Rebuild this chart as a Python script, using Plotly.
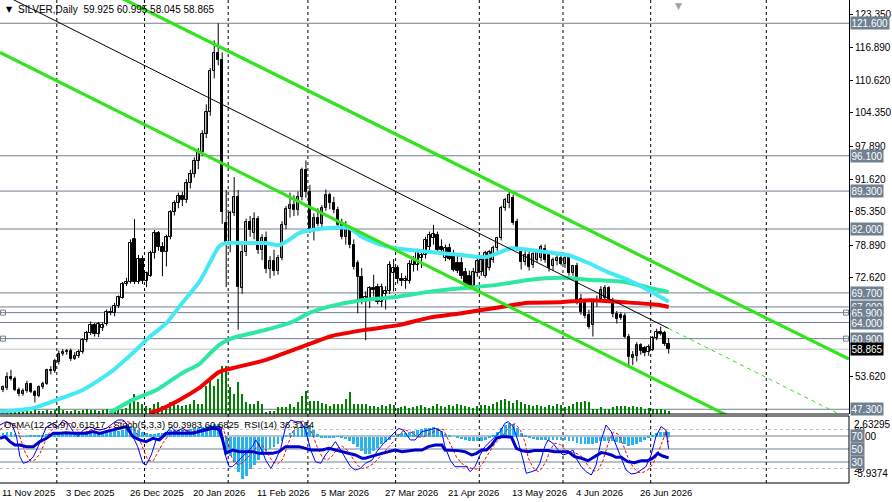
import numpy as np
import pandas as pd
import plotly.graph_objects as go

# ---------------- data ----------------
title_text = "SILVER,Daily  59.925 60.995 58.045 58.865"
indicator_text = "OsMA(12,26,9) 0.61517 , Stoch(5,3,3) 50.3983 60.6825  RSI(14) 36.3134"

first_day = "2025-11-11"
holidays = ["2025-12-25", "2026-01-01", "2026-04-03"]

open_ = [51.0,51.4,53.6,53.2,51.0,50.3,50.9,52.1,50.7,49.9,51.6,52.2,54.8,54.6,
         56.4,58.0,58.4,58.6,57.0,57.5,58.3,60.6,62.0,63.5,61.8,63.0,63.7,66.0,65.9,67.1,68.8,71.4,
         71.8,80.1,71.8,76.2,72.0,73.0,77.4,81.2,78.5,77.6,80.5,85.3,87.0,88.4,87.6,90.8,92.6,
         95.0,96.8,100.2,104.5,112.4,115.8,114.6,83.2,78.9,85.1,88.2,70.6,
         77.6,83.3,81.2,83.9,78.0,80.2,74.3,75.9,74.0,76.5,82.8,85.8,86.6,85.7,88.2,93.4,
         89.1,81.8,84.2,83.0,86.0,88.6,87.0,85.7,82.8,80.5,82.0,79.0,75.5,72.8,68.0,68.5,70.6,70.8,68.0,69.5,70.0,73.5,
         74.5,72.3,72.0,72.0,75.0,75.0,76.5,77.0,78.5,80.2,80.8,78.5,76.5,78.3,77.0,75.5,75.5,73.7,73.0,71.0,73.5,
         73.8,73.0,74.5,76.0,78.3,80.2,86.0,87.0,88.0,83.3,77.6,75.6,77.0,75.0,76.0,76.5,78.2,77.0,74.8,75.8,76.5,
         75.2,76.4,73.5,74.8,68.5,67.8,65.5,63.5,68.0,68.5,68.8,70.6,68.2,65.6,65.5,65.2,61.2,57.2,57.5,59.6,59.0,58.3,58.8,61.0,62.2,62.0,59.925]
high = [51.9,54.4,54.9,53.6,51.5,51.3,52.8,52.4,51.0,51.9,52.6,55.1,55.6,57.0,
        58.6,58.9,58.9,59.0,58.3,58.8,61.0,62.4,64.2,63.9,64.1,64.0,66.5,66.9,67.8,69.2,71.8,72.6,
        80.0,83.9,77.0,76.9,73.8,77.8,81.8,81.6,79.5,80.9,85.6,87.5,89.0,89.2,91.6,93.4,95.8,
        97.6,101.0,106.0,113.0,118.3,121.6,116.0,89.5,85.5,92.0,89.5,79.3,
        84.0,84.5,85.2,84.5,81.0,81.5,76.8,78.0,77.0,83.5,86.4,89.0,88.5,89.2,93.8,95.2,
        90.5,85.0,86.0,86.6,89.6,89.0,88.2,86.3,84.0,83.5,82.5,80.0,76.0,74.5,70.0,71.0,73.2,71.5,71.5,71.0,75.8,76.2,
        75.0,73.5,73.0,76.0,76.8,78.2,78.0,80.5,81.5,82.8,81.5,80.0,79.0,79.2,78.0,76.8,76.5,74.5,74.0,74.5,76.5,
        77.0,77.8,78.0,78.8,80.5,86.5,88.0,89.3,88.6,84.0,78.5,77.8,77.8,77.5,77.8,79.0,79.0,77.5,76.5,77.0,77.2,
        77.0,77.0,75.0,75.5,69.5,68.5,66.5,68.5,69.2,71.0,71.2,71.0,68.8,66.2,66.0,65.8,61.8,58.5,60.2,60.0,59.5,59.8,61.4,62.8,63.2,62.4,60.995]
low = [50.6,51.0,52.8,50.8,49.8,49.9,50.5,50.4,48.6,49.6,51.2,52.0,54.0,54.3,
       55.9,57.6,57.8,56.6,56.8,57.2,58.0,60.2,61.6,61.3,61.2,62.4,63.4,65.4,65.2,66.8,68.6,71.0,
       71.5,71.4,71.4,71.4,70.8,72.8,76.3,77.8,72.9,74.8,80.0,84.6,86.0,86.4,87.0,89.8,91.9,
       93.5,96.0,99.5,103.8,111.0,113.5,83.0,70.8,77.5,84.5,62.6,69.5,
       76.8,80.5,80.0,77.2,76.0,73.5,72.5,73.0,73.2,76.0,82.0,84.2,84.5,84.6,87.5,88.0,
       81.2,79.8,82.5,82.4,85.5,85.8,85.0,82.5,80.0,79.0,78.3,74.2,65.8,67.5,60.6,66.8,69.0,67.5,67.0,66.5,69.5,70.0,
       71.5,71.0,70.5,71.5,73.8,74.0,74.5,76.3,77.8,79.0,77.6,77.0,75.8,76.0,73.8,73.5,72.4,70.5,70.8,70.6,72.8,
       73.0,72.6,74.0,75.5,77.8,79.8,85.5,86.0,82.8,77.8,74.2,75.0,74.0,74.5,75.5,75.8,75.5,73.8,74.0,75.0,75.0,
       74.5,73.0,73.0,67.5,65.5,64.8,62.8,61.3,67.0,68.0,68.0,67.8,65.0,63.8,64.5,61.0,55.8,55.8,56.5,57.8,57.5,57.6,58.5,60.6,61.5,59.5,58.045]
close = [51.5,53.6,53.2,51.0,50.3,50.9,52.1,50.7,49.8,51.6,52.2,54.8,54.6,56.5,
         58.0,58.4,58.6,56.9,57.5,58.3,60.6,62.0,63.5,61.8,63.7,63.5,66.0,65.9,67.1,68.9,71.4,71.8,
         79.3,71.8,76.2,72.0,73.5,77.4,81.2,78.5,77.6,80.5,85.3,87.0,88.4,87.6,90.8,92.6,95.1,
         96.8,100.2,104.5,112.4,115.8,114.6,85.3,78.9,85.1,88.2,70.8,77.6,
         83.3,81.8,83.9,78.0,80.2,74.3,75.9,74.0,76.5,82.8,85.8,86.6,85.7,88.2,93.4,89.2,
         81.8,84.2,83.0,86.0,88.6,87.0,85.7,82.8,80.5,82.0,79.0,74.7,72.8,68.0,69.0,70.6,70.2,68.0,70.8,70.0,75.0,74.5,
         72.3,72.0,72.4,75.2,76.0,77.6,77.0,79.8,80.8,81.0,78.0,78.0,78.3,76.2,74.2,74.0,73.0,71.2,71.0,73.8,75.8,
         76.0,77.4,77.5,78.3,80.2,86.0,87.6,88.5,83.2,78.3,75.6,77.0,74.6,77.2,77.5,78.5,76.0,74.5,76.0,76.5,75.2,
         76.5,73.5,74.8,68.2,66.0,65.2,63.2,68.0,68.4,70.2,70.6,68.2,65.6,64.6,64.8,61.3,57.4,57.7,59.6,58.5,58.2,59.2,61.0,62.2,61.8,59.9,58.865]
volume = [6000,8000,6000,8000,6000,6000,8000,6000,10000,6000,6000,8000,6000,8000,
          16000,8000,6000,6000,8000,6000,8000,10000,8000,8000,6000,8000,10000,8000,8000,10000,10000,12000,
          30000,40000,24000,20000,16000,12000,20000,24000,16000,16000,
          24000,20000,18000,16000,18000,20000,28000,
          20000,20000,56000,66000,56000,70000,96000,96000,54000,40000,64000,40000,
          24000,20000,20000,26000,20000,4000,6000,6000,14000,14000,14000,20000,14000,24000,36000,46000,
          26000,26000,26000,22000,20000,16000,20000,20000,20000,30000,44000,20000,20000,20000,20000,16000,16000,14000,18000,16000,20000,18000,
          12000,14000,16000,12000,14000,16000,18000,14000,12000,16000,20000,16000,14000,18000,16000,20000,18000,16000,14000,12000,16000,
          18000,18000,16000,20000,24000,28000,30000,26000,22000,28000,24000,20000,18000,16000,18000,16000,14000,18000,16000,20000,18000,
          14000,16000,20000,24000,24000,26000,24000,10000,10000,14000,10000,10000,14000,16000,16000,16000,14000,16000,14000,14000,10000,12000,10000,10000,10000,8000,6000]
osma = [0.4,0.6,0.55,0.35,0.15,
        0.05,0.05,0.1,0.1,0.2,0.25,
        0.3,0.35,0.35,0.4,0.45,0.5,0.45,0.4,0.35,0.4,
        0.45,0.5,0.45,0.45,0.5,0.55,0.6,0.7,0.75,0.8,
        1.0,1.3,1.2,0.9,0.6,
        0.4,0.3,0.35,0.45,0.5,0.6,
        0.8,0.9,0.9,0.85,0.9,1.0,1.1,1.15,1.2,
        1.3,1.45,1.6,1.65,
        -0.3,-1.8,-2.5,-3.2,-4.5,-5.4,-5.0,-4.2,-3.6,-3.0,-2.4,-1.9,-1.6,-1.3,-1.0,-0.6,
        0.1,0.5,0.9,1.2,1.5,1.75,1.5,0.9,0.3,-0.1,-0.15,
        -0.1,-0.15,-0.05,-0.2,-0.35,-0.6,-0.9,-1.3,-1.8,-2.2,-2.2,-1.8,-1.4,-1.0,-0.7,-0.4,-0.05,0.3,
        0.4,0.5,0.6,0.75,0.85,0.95,1.05,1.15,1.2,1.1,0.7,0.35,
        0.1,0.0,-0.1,-0.3,-0.45,-0.55,-0.6,-0.6,-0.55,-0.5,-0.2,
        0.2,0.6,1.1,1.5,1.75,1.6,1.1,0.5,0.1,
        -0.1,-0.35,-0.4,-0.45,-0.4,-0.45,-0.5,-0.45,-0.45,-0.5,-0.55,-0.6,-0.8,-0.95,-1.0,-1.0,-1.0,-0.8,
        -0.6,-0.55,-0.55,-0.6,-0.7,-0.85,-0.95,-1.15,-1.1,-0.9,-0.7,-0.45,-0.2,0.1,0.4,0.6,0.65,0.62]

# moving averages (read at sample bars)
ma_fast_idx = [-1,7.5,13.5,20,26.75,32.5,36.75,41,45,49.25,51.75,54.25,56,61.75,66,69.25,71.75,74.25,77.5,81.75,
               86.75,90,94.25,98.5,106.75,115,121,125,127.5,131.75,140,141.75,146.75,151.75,156.75,161.75,167]
ma_fast_val = [46.8,47.5,49.1,51.0,54.3,58.1,61.2,63.9,67.8,71.8,75.3,78.7,79.3,79.3,79.3,78.9,79.9,81.2,81.8,82.2,
               82.2,80.5,79.1,78.3,77.6,77.0,76.6,77.6,78.3,78.0,77.2,77.0,75.5,73.7,72.2,70.3,68.0]
ma_mid_idx = [26.75,32.5,38.5,45,49.25,51.75,54.25,57.5,66,72.5,76.75,82.5,90,98.5,106.75,115,123.5,131.75,140,147.5,156,164.25,167]
ma_mid_val = [46.6,49.1,51.0,54.3,56.0,57.9,59.7,61.0,62.6,64.1,65.8,67.2,68.3,68.9,69.9,70.6,71.2,72.2,72.6,72.2,71.8,70.3,69.9]
ma_slow_idx = [36.75,39.25,44.25,49.25,54.25,57.5,66,74.25,82.5,91,99.25,106.75,115,123.5,131.75,140,147.5,156,164.25,167]
ma_slow_val = [46.6,47.2,49.1,51.4,54.5,55.2,56.8,59.1,61.4,62.6,63.5,64.9,65.8,66.8,67.8,67.9,68.3,67.9,67.4,67.0]

# trend-line anchors (bar index, price)
chan_upper_idx = [36.75, 171.75]
chan_upper_px = [123.77, 72.375]
chan_mid_idx = [36.75, 171.75]
chan_mid_px = [113.0, 61.02]
chan_lower_idx = [49.25, 141.75]
chan_lower_px = [96.82, 61.4]

# stochastic main / signal and RSI (read at sample bars)
stoch_idx = [-0.75,0.9,2.2,3.4,4.25,5.1,6.3,7.6,8.8,10.1,10.9,12.6,13.8,15.1,16.3,17.6,18.8,20.1,21.75,24.25,25.9,27.6,28.8,30.1,
             31.3,32.6,33.8,35.1,35.9,37.2,38.4,39.7,40.9,42.2,43.4,45.1,47.2,49.25,51.75,53.4,54.7,55.9,56.75,57.6,58.8,60.1,
             61.3,62.6,63.4,64.25,65.1,65.9,67.2,68.4,69.7,70.9,72.2,73.4,74.7,75.9,77.2,78.4,79.7,80.9,82.2,83.4,84.7,85.9,
             87.2,88.4,89.7,90.9,92.6,93.8,95.1,96.75,98.4,99.25,100.5,102.2,103.4,105.1,106.75,108.4,110.1,110.8,112.2,113.4,
             115.1,116.3,117.2,118.4,119.7,120.9,122.2,123.4,124.7,125.9,126.75,128,129.25,130.5,131.3,132.6,133.8,134.7,135.9,
             136.75,138,139.25,140.5,141.75,143,143.8,145.1,146.3,147.6,148.8,150.1,151.3,152.6,153.8,155.1,156.3,157.6,158.8,
             160.1,161.3,162.6,163.8,165.1,166.3,167]
stoch_val = [87,92,89.5,69,38,28,30.5,38,53.6,74,84,89.5,84,94.6,89.5,77,69,79,84,79,81.8,89.5,94.6,94.6,
             87,69,53.6,28,25.4,40.8,63.9,69,74,84,76.7,81.8,74,79,84,85,84,38,22.8,22.8,30.5,38,
             45.9,53.6,63.9,56,45.9,33,20.3,33,51,84,94.6,92,92,79,48.5,30.5,28,40.8,51,61.3,48.5,35.7,
             22.8,17.7,20.3,28,33,45.9,56,66,76.7,81.8,79,63.9,63.9,76.7,79,81.8,76.7,55,33,22.8,
             22.8,22.8,15.1,22.8,40.8,53.6,61.3,69,76.7,89.5,92,84.4,61.3,33,12.6,15.1,17.7,28,53.6,
             63.9,58.7,48.5,40.8,43.3,48.5,35.7,22.8,15.1,10,25.4,63.9,87,76.7,56.2,35.7,17.7,11.6,12.6,
             17.7,22.8,40.8,69,84.4,79.2,50.4]
signal_idx = [-0.75,1,2.5,3.6,4.6,5.6,6.8,8,9.2,10.4,11.5,13,14.4,15.6,17,18.2,19.4,20.6,22.3,24.6,26.3,28,29.3,30.6,
              31.8,33,34.2,35.5,36.4,37.7,38.9,40.2,41.4,42.7,44,45.6,47.6,49.7,52.2,54,55.2,56.3,57.2,58.1,59.3,60.5,
              61.8,63,63.9,64.7,65.6,66.5,67.7,68.9,70.2,71.4,72.7,73.9,75.2,76.4,77.7,78.9,80.2,81.4,82.7,83.9,85.2,86.4,
              87.7,88.9,90.2,91.4,93.1,94.3,95.6,97.2,98.9,99.8,101,102.7,103.9,105.6,107.2,108.9,110.5,111.3,112.7,113.9,
              115.6,116.8,117.7,118.9,120.2,121.4,122.7,123.9,125.2,126.4,127.3,128.5,129.8,131,131.8,133.1,134.3,135.2,136.4,
              137.3,138.5,139.8,141,142.3,143.5,144.3,145.6,146.8,148.1,149.3,150.6,151.8,153.1,154.3,155.6,156.8,158.1,159.3,
              160.6,161.8,163.1,164.3,165.6,166.5,167]
signal_val = [80,88,90,82,62,44,32,33,42,58,74,85,88,89,89,82,75,76,80,80,82,85,91,93,
              91,80,65,46,32,32,45,60,70,77,79,79,77,78,82,84,82,62,40,28,26,31,
              40,48,55,57,52,42,30,27,34,56,77,89,93,88,72,52,36,33,40,51,54,48,
              36,25,20,22,28,36,46,57,68,75,79,75,68,69,74,79,80,70,52,36,
              25,22,20,19,26,39,52,61,69,79,86,89,79,60,36,20,15,20,33,
              49,59,57,49,44,44,42,36,24,16,17,33,58,76,73,56,37,22,14,
              14,18,27,44,64,78,60.7]
rsi_idx = [-0.75,0.5,1.75,3,4.25,5.9,7.6,9.25,10.9,12.6,14.25,15.9,17.6,19.25,20.9,22.6,24.25,25.9,27.6,29.25,30.9,32.6,
           34.25,35.9,37.6,39.25,40.9,42.6,44.25,45.9,47.6,49.25,50.9,52.6,54.25,55.1,55.9,57.6,59.25,60.9,62.6,64.25,65.9,
           67.6,69.25,70.9,72.6,74.25,75.9,77.2,78.4,80.1,81.75,83.4,85.1,86.75,88.4,90.1,90.9,92.2,93.4,95.1,96.75,98.4,
           100.1,101.75,103.4,105.1,106.75,108.4,110.1,110.9,112.6,114.25,115.9,117.6,118.8,120.1,121.3,122.6,123.8,125.1,
           126.3,127.6,128.8,130.1,131.75,133.4,135.1,136.75,138.4,140.1,141.75,143.4,145.1,146.75,148.4,150.1,151.3,152.6,
           153.8,155.1,156.75,158.4,160.1,161.75,163,164.25,165.5,167]
rsi_val = [66.4,69,61.3,56.2,56.2,53.6,53.6,61.3,66.4,74.1,74.1,75.1,74.1,74.1,74.1,76.7,74.1,76.7,79.2,81.8,84.4,69,
           63.9,61.3,66.4,63.9,74.1,74.1,74.1,74.1,74.1,76.7,79.2,81.8,80.3,63.9,43.3,48.5,45.9,45.9,45.9,43.3,43.3,
           43.3,45.9,53.6,53.6,53.6,51,48.5,48.5,48.5,51,48.5,45.9,43.3,40.8,35.7,35.7,38.2,40.8,43.3,45.9,48.5,
           45.9,47.5,48.5,48.5,53.6,56.2,56.2,48.5,48.5,47.5,45.9,40.8,43.3,48.5,48.5,56.2,66.4,69,
           69,68,51,47.5,45.9,47.5,47.5,47.5,45.9,45.9,45.9,38.2,35.7,32,38.2,44.4,43.3,40.8,
           37.2,37.2,30.5,29,32,32,35.7,43.3,39.2,36.3]

# horizontal levels
levels = [121.6, 96.1, 89.3, 82.0, 69.7, 67.0, 65.9, 64.0, 60.9, 47.3]
current_price = 58.865
price_ticks = [123.35, 116.89, 110.62, 104.35, 97.89, 91.62, 85.35, 78.89, 72.62, 53.62]
alert_levels = [65.9, 60.9]
osc_solid_levels = [70, 50, 30]
osc_dash_levels = [80, 20]
osma_top, osma_bottom = 2.63295, -5.9374

x_labels = ["11 Nov 2025", "3 Dec 2025", "26 Dec 2025", "20 Jan 2026", "11 Feb 2026", "5 Mar 2026",
            "27 Mar 2026", "21 Apr 2026", "13 May 2026", "4 Jun 2026", "26 Jun 2026"]
future_separator_idx = 191.5

# ---------------- derived ----------------
n = len(close)
assert len(open_) == n and len(high) == n and len(low) == n and len(volume) == n and len(osma) == n
assert len(stoch_idx) == len(stoch_val) and len(signal_idx) == len(signal_val) and len(rsi_idx) == len(rsi_val)
idx = np.arange(n)
days = [d for d in pd.bdate_range(first_day, "2026-12-31") if d.strftime("%Y-%m-%d") not in holidays][:n]
day_text = [f"{d.day} {d.strftime('%b %Y')}" for d in days]
label_idx = [day_text.index(t) for t in x_labels]
month_starts = [i for i in range(1, n) if days[i].month != days[i - 1].month]

# ---------------- layout constants ----------------
FONT = "Liberation Sans"
FS = 9.5
W, H = 892, 502
MR, MB = 40, 19
PH = H - MB
MAIN_BOTTOM_PX, IND_TOP_PX = 414, 416
dom_main = [(PH - MAIN_BOTTOM_PX) / PH, 1.0]
dom_ind = [0.0, (PH - IND_TOP_PX) / PH]
x_range = [-0.75, 212.25]
price_range = [46.39, 126.08]
osc_range = [-2.31, 100.77]
vol_range = [0, 828000]

LIME = "#33E31E"
GRAYLINE = "#708090"

fig = go.Figure()

# volume (base main axis, drawn under price)
fig.add_trace(go.Bar(x=idx, y=volume, width=0.3, marker=dict(color="#008000", line=dict(width=0)),
                     xaxis="x", yaxis="y", hoverinfo="skip"))

# candles: wicks + bodies
wx, wy = [], []
for i in range(n):
    wx += [i, i, None]
    wy += [low[i], high[i], None]
fig.add_trace(go.Scatter(x=wx, y=wy, mode="lines", line=dict(color="black", width=1),
                         xaxis="x", yaxis="y3", hoverinfo="skip"))
body_base = [min(o, c) for o, c in zip(open_, close)]
body_len = [max(abs(c - o), 0.12) for o, c in zip(open_, close)]
body_col = ["white" if c >= o else "black" for o, c in zip(open_, close)]
fig.add_trace(go.Bar(x=idx, y=body_len, base=body_base, width=0.62,
                     marker=dict(color=body_col, line=dict(color="black", width=1)),
                     xaxis="x", yaxis="y3", hoverinfo="skip"))

# moving averages
for xi, yv, col in [(ma_slow_idx, ma_slow_val, "#F20000"),
                    (ma_mid_idx, ma_mid_val, "#2EE8A2"),
                    (ma_fast_idx, ma_fast_val, "#45E9F5")]:
    fig.add_trace(go.Scatter(x=xi, y=yv, mode="lines", line=dict(color=col, width=4, shape="spline", smoothing=0.6),
                             xaxis="x", yaxis="y3", hoverinfo="skip"))


def ray(ix, px, x0, x1):
    slope = (px[1] - px[0]) / (ix[1] - ix[0])
    return [x0, x1], [px[0] + slope * (x0 - ix[0]), px[0] + slope * (x1 - ix[0])]


last = idx[-1]
xs, ys = ray(chan_mid_idx, chan_mid_px, last, x_range[1])
fig.add_trace(go.Scatter(x=xs, y=ys, mode="lines", line=dict(color=LIME, width=1, dash="4px,4px"),
                         xaxis="x", yaxis="y3", hoverinfo="skip"))
xs, ys = ray(chan_mid_idx, chan_mid_px, x_range[0], last)
fig.add_trace(go.Scatter(x=xs, y=ys, mode="lines", line=dict(color="black", width=1),
                         xaxis="x", yaxis="y3", hoverinfo="skip"))
for ix, px in [(chan_upper_idx, chan_upper_px), (chan_lower_idx, chan_lower_px)]:
    xs, ys = ray(ix, px, x_range[0], x_range[1])
    fig.add_trace(go.Scatter(x=xs, y=ys, mode="lines", line=dict(color=LIME, width=3.2),
                             xaxis="x", yaxis="y3", hoverinfo="skip"))

# small alert squares
fig.add_trace(go.Scatter(x=[x_range[0] + 0.75, x_range[1] - 0.75] * 2,
                         y=[alert_levels[0]] * 2 + [alert_levels[1]] * 2,
                         mode="markers", marker=dict(symbol="square-open", size=5, color=GRAYLINE, line=dict(width=1)),
                         cliponaxis=False, xaxis="x", yaxis="y3", hoverinfo="skip"))

# indicator window
fig.add_trace(go.Bar(x=idx, y=osma, width=0.72, marker=dict(color="#28B4EC", line=dict(width=0)),
                     xaxis="x2", yaxis="y2", hoverinfo="skip"))
fig.add_trace(go.Scatter(x=signal_idx, y=signal_val, mode="lines", line=dict(color="#FF0000", width=1, dash="3px,2px"),
                         xaxis="x2", yaxis="y4", hoverinfo="skip"))
fig.add_trace(go.Scatter(x=stoch_idx, y=stoch_val, mode="lines", line=dict(color="#0000FF", width=1),
                         xaxis="x2", yaxis="y4", hoverinfo="skip"))
fig.add_trace(go.Scatter(x=rsi_idx, y=rsi_val, mode="lines", line=dict(color="#0000CD", width=3),
                         xaxis="x2", yaxis="y4", hoverinfo="skip"))

shapes = []
for v in levels:
    shapes.append(dict(type="line", xref="paper", x0=0, x1=1, yref="y3", y0=v, y1=v,
                       line=dict(color=GRAYLINE, width=1), layer="below"))
shapes.append(dict(type="line", xref="paper", x0=0, x1=1, yref="y3", y0=current_price, y1=current_price,
                   line=dict(color="#C0C0C0", width=1), layer="below"))
for v in osc_solid_levels:
    shapes.append(dict(type="line", xref="paper", x0=0, x1=1, yref="y4", y0=v, y1=v,
                       line=dict(color=GRAYLINE, width=1), layer="below"))
for v in osc_dash_levels:
    shapes.append(dict(type="line", xref="paper", x0=0, x1=1, yref="y4", y0=v, y1=v,
                       line=dict(color="#C0C0C0", width=1, dash="3px,3px"), layer="below"))
for s in [m - 0.5 for m in month_starts] + [future_separator_idx]:
    shapes.append(dict(type="line", xref="x", x0=s, x1=s, yref="paper", y0=0, y1=1,
                       line=dict(color="black", width=1, dash="3px,3px"), layer="below"))
shapes.append(dict(type="line", xref="paper", x0=0, x1=1, yref="y domain", y0=0, y1=0, line=dict(color="black", width=1)))
shapes.append(dict(type="line", xref="paper", x0=0, x1=1, yref="y2 domain", y0=1, y1=1, line=dict(color="black", width=1)))
shapes.append(dict(type="line", xref="paper", x0=0, x1=1, yref="y2 domain", y0=0, y1=0, line=dict(color="black", width=1)))
shapes.append(dict(type="line", xref="paper", x0=1, x1=1, yref="y2 domain", y0=0, y1=1, line=dict(color="black", width=1)))

ann = []
ann.append(dict(xref="paper", yref="paper", x=0, y=1, xanchor="left", yanchor="top", xshift=4, yshift=-3,
                text="▼", showarrow=False, font=dict(family="DejaVu Sans", size=8, color="black")))
ann.append(dict(xref="paper", yref="paper", x=0, y=1, xanchor="left", yanchor="top", xshift=16, yshift=-2,
                text=title_text, showarrow=False, font=dict(family=FONT, size=FS + 0.5, color="black")))
ann.append(dict(xref="x", yref="paper", x=last + 2.5, y=1, xanchor="center", yanchor="top", yshift=1,
                text="▼", showarrow=False, font=dict(family="DejaVu Sans", size=9, color="#A0A0A0")))
ann.append(dict(xref="paper", yref="y2 domain", x=0, y=1, xanchor="left", yanchor="top", xshift=2, yshift=-1,
                text=indicator_text, showarrow=False, font=dict(family=FONT, size=FS, color="black")))
for v in levels:
    ann.append(dict(xref="paper", yref="y3", x=1, y=v, xanchor="left", yanchor="middle", xshift=1,
                    text=f"{v:.3f}", showarrow=False, bgcolor=GRAYLINE, borderpad=0.5,
                    font=dict(family=FONT, size=FS + 0.5, color="white")))
ann.append(dict(xref="paper", yref="y3", x=1, y=current_price, xanchor="left", yanchor="middle", xshift=1,
                text=f"{current_price:.3f}", showarrow=False, bgcolor="black", borderpad=0.5,
                font=dict(family=FONT, size=FS + 0.5, color="white")))
for v in osc_dash_levels:
    ann.append(dict(xref="paper", yref="y4", x=1, y=v, xanchor="left", yanchor="middle", xshift=3,
                    text=f"{v}", showarrow=False, font=dict(family=FONT, size=FS, color="black")))
ann.append(dict(xref="paper", yref="y2", x=1, y=osma_top, xanchor="left", yanchor="top", xshift=3, yshift=-1,
                text=f"{osma_top:.5f}", showarrow=False, font=dict(family=FONT, size=FS + 0.5, color="black")))
ann.append(dict(xref="paper", yref="y2", x=1, y=osma_bottom, xanchor="left", yanchor="bottom", xshift=3, yshift=2,
                text=f"{osma_bottom:.4f}", showarrow=False, font=dict(family=FONT, size=FS + 0.5, color="black")))
ann.append(dict(xref="paper", yref="y2", x=1, y=0, xanchor="left", yanchor="middle", xshift=14,
                text="00", showarrow=False, font=dict(family=FONT, size=FS + 0.5, color="black")))
for v in osc_solid_levels:
    ann.append(dict(xref="paper", yref="y4", x=1, y=v, xanchor="left", yanchor="middle", xshift=1,
                    text=f"{v}", showarrow=False, bgcolor=GRAYLINE, borderpad=0.5,
                    font=dict(family=FONT, size=FS + 0.5, color="white")))
for t, i in zip(x_labels, label_idx):
    ann.append(dict(xref="x", yref="paper", x=i - 0.75, y=0, xanchor="left", yanchor="middle", yshift=-9,
                    text=t, showarrow=False, font=dict(family=FONT, size=FS, color="black")))

fig.update_layout(
    width=W, height=H, margin=dict(l=0, r=MR, t=0, b=MB, pad=0),
    paper_bgcolor="white", plot_bgcolor="white", showlegend=False,
    bargap=0, barmode="overlay",
    xaxis=dict(domain=[0, 1], range=x_range, anchor="y", showgrid=False, zeroline=False,
               showticklabels=False, ticks="", fixedrange=True),
    xaxis2=dict(domain=[0, 1], range=x_range, anchor="y2", matches="x", showgrid=False, zeroline=False,
                showticklabels=False, ticks=""),
    yaxis=dict(domain=dom_main, range=vol_range, visible=False, fixedrange=True),
    yaxis3=dict(overlaying="y", anchor="x", side="right", range=price_range, showgrid=False, zeroline=False,
                tickmode="array", tickvals=price_ticks, ticktext=[f"{v:.3f}" for v in price_ticks],
                ticks="outside", ticklen=3, tickcolor="black", showline=True, linecolor="black", linewidth=1,
                tickfont=dict(family=FONT, size=FS + 0.5, color="black")),
    yaxis2=dict(domain=dom_ind, anchor="x2", range=[osma_bottom, osma_top], visible=False),
    yaxis4=dict(overlaying="y2", anchor="x2", side="right", range=osc_range, visible=False),
    shapes=shapes, annotations=ann,
)

fig.write_html("out.html")
